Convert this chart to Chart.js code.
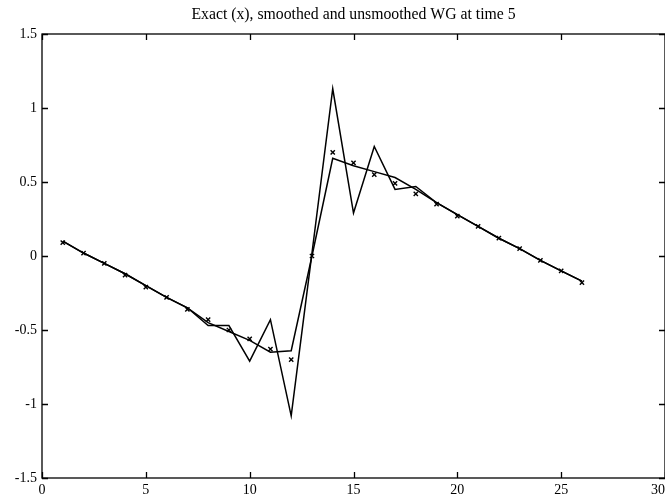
<!DOCTYPE html>
<html>
<head>
<meta charset="utf-8">
<script src="https://cdn.jsdelivr.net/npm/chart.js@4.4.1/dist/chart.umd.min.js"></script>
<style>
  html, body { margin: 0; padding: 0; background: #fff; }
  #wrap { width: 665px; height: 504px; }
</style>
</head>
<body>
<div id="wrap"><canvas id="wg-chart"></canvas></div>
<script>
// grid points 1..26
const gridX = [1, 2, 3, 4, 5, 6, 7, 8, 9, 10, 11, 12, 13, 14, 15, 16, 17, 18, 19, 20, 21, 22, 23, 24, 25, 26];

// exact solution (plotted with x markers)
const exactWG = [0.09, 0.02, -0.05, -0.13, -0.21, -0.28, -0.36, -0.43, -0.50, -0.56, -0.63, -0.70, 0.0,
	0.70, 0.63, 0.55, 0.49, 0.42, 0.35, 0.27, 0.20, 0.12, 0.05, -0.03, -0.10, -0.18];

// smoothed WG
const smoothedWG = [0.10, 0.02, -0.05, -0.12, -0.20, -0.28, -0.35, -0.45, -0.51, -0.57, -0.65, -0.64, 0.0,
	0.66, 0.61, 0.57, 0.53, 0.45, 0.36, 0.28, 0.20, 0.12, 0.05, -0.03, -0.10, -0.17];

// unsmoothed WG
const unsmoothedWG = [0.10, 0.02, -0.05, -0.12, -0.20, -0.28, -0.35, -0.47, -0.47, -0.71, -0.43, -1.08, 0.02,
	1.13, 0.29, 0.74, 0.45, 0.47, 0.36, 0.28, 0.20, 0.12, 0.05, -0.03, -0.10, -0.17];

const xTicks = [0, 5, 10, 15, 20, 25, 30];
const yTicks = [-1.5, -1, -0.5, 0, 0.5, 1, 1.5];

const titleText = 'Exact (x), smoothed and unsmoothed WG at time 5';
const serif = 'Liberation Serif';

function toPoints(ys) {
	return gridX.map((x, i) => ({x: x, y: ys[i]}));
}

// matlab style box with inward ticks on all four sides
const boxTicks = {
	id: 'boxTicks',
	afterDatasetsDraw(chart) {
		const {ctx, chartArea: a, scales} = chart;
		ctx.save();
		ctx.strokeStyle = '#000';
		ctx.lineWidth = 1.3;
		ctx.strokeRect(a.left, a.top, a.right - a.left, a.bottom - a.top);
		ctx.beginPath();
		scales.x.ticks.forEach(t => {
			const px = Math.round(scales.x.getPixelForValue(t.value)) + 0.5;
			ctx.moveTo(px, a.bottom); ctx.lineTo(px, a.bottom - 6);
			ctx.moveTo(px, a.top); ctx.lineTo(px, a.top + 6);
		});
		scales.y.ticks.forEach(t => {
			const py = Math.round(scales.y.getPixelForValue(t.value)) + 0.5;
			ctx.moveTo(a.left, py); ctx.lineTo(a.left + 6, py);
			ctx.moveTo(a.right, py); ctx.lineTo(a.right - 6, py);
		});
		ctx.stroke();
		ctx.restore();
	}
};

new Chart(document.getElementById('wg-chart'), {
	type: 'scatter',
	data: {
		datasets: [
			{
				label: 'unsmoothed',
				data: toPoints(unsmoothedWG),
				showLine: true,
				borderColor: '#000',
				borderWidth: 1.5,
				pointRadius: 0,
				tension: 0
			},
			{
				label: 'smoothed',
				data: toPoints(smoothedWG),
				showLine: true,
				borderColor: '#000',
				borderWidth: 1.5,
				pointRadius: 0,
				tension: 0
			},
			{
				label: 'exact',
				data: toPoints(exactWG),
				showLine: false,
				pointStyle: 'crossRot',
				pointRadius: 3,
				borderColor: '#000',
				backgroundColor: '#000',
				borderWidth: 1.4
			}
		]
	},
	options: {
		responsive: true,
		maintainAspectRatio: false,
		animation: false,
		events: [],
		layout: {autoPadding: false, padding: {left: 0, right: 0, top: 0, bottom: 0}},
		plugins: {
			legend: {display: false},
			tooltip: {enabled: false},
			title: {
				display: true,
				text: titleText,
				color: '#000',
				fullSize: false,
				font: {family: serif, size: 15.75, weight: 'normal', lineHeight: 1.2},
				padding: {top: 5, bottom: 10.1}
			}
		},
		scales: {
			x: {
				type: 'linear',
				min: 0,
				max: 30,
				afterBuildTicks: s => { s.ticks = xTicks.map(v => ({value: v})); },
				afterFit: s => { s.height = 26; s.paddingLeft = 0; s.paddingRight = 0; },
				grid: {display: false, drawTicks: false},
				border: {display: false},
				ticks: {
					color: '#000',
					padding: 4,
					maxRotation: 0,
					font: {family: serif, size: 14},
					callback: v => v === 30 ? '30\u2002\u2002' : String(v)
				}
			},
			y: {
				type: 'linear',
				min: -1.5,
				max: 1.5,
				afterBuildTicks: s => { s.ticks = yTicks.map(v => ({value: v})); },
				afterFit: s => { s.width = 42; },
				grid: {display: false, drawTicks: false},
				border: {display: false},
				ticks: {
					color: '#000',
					padding: 5,
					font: {family: serif, size: 14},
					callback: v => String(v)
				}
			}
		}
	},
	plugins: [boxTicks]
});
</script>
</body>
</html>
